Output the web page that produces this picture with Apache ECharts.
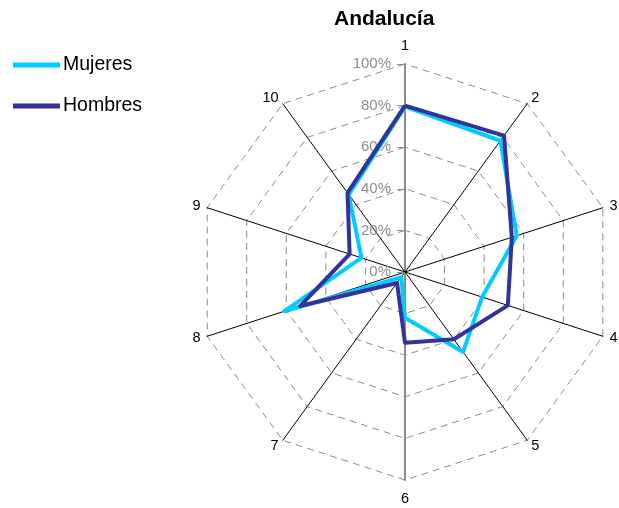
<!DOCTYPE html>
<html>
<head>
<meta charset="utf-8">
<script src="https://cdn.jsdelivr.net/npm/echarts@6/dist/echarts.min.js"></script>
<style>
  html, body { margin: 0; padding: 0; background: #fff; }
  #chart { width: 619px; height: 508px; }
</style>
</head>
<body>
<div id="chart"></div>
<script>
// Radar categories (1..10, running clockwise from the top) and share values per group
const categories = ['1', '2', '3', '4', '5', '6', '7', '8', '9', '10'];
const mujeres = [0.795, 0.78, 0.565, 0.39, 0.475, 0.22, 0.03, 0.61, 0.22, 0.46];
const hombres = [0.80, 0.81, 0.54, 0.52, 0.40, 0.34, 0.065, 0.53, 0.28, 0.47];
const seriesNames = ['Mujeres', 'Hombres'];
const titleText = 'Andalucía';

const FONT = 'Liberation Sans, Arial, sans-serif';

// ECharts lays radar indicators out counter-clockwise; walk the categories
// in reverse (after the first) so they read clockwise.
const order = [0].concat(categories.map(function (_, i) { return i; }).slice(1).reverse());
const pick = function (arr) { return order.map(function (k) { return arr[k]; }); };

const indicator = order.map(function (k) {
  const ind = { name: categories[k], min: 0, max: 1 };
  if (k === 0 || k === 5) {
    // the value axis (top/bottom) is drawn thicker and grey
    ind.axisLine = { lineStyle: { color: '#8c8c8c', width: 2 } };
  }
  if (k === 0) {
    ind.axisTick = { show: true, length: 8, lineStyle: { color: '#8c8c8c', width: 1 } };
    ind.axisLabel = {
      show: true,
      color: '#8c8c8c',
      fontFamily: FONT,
      fontSize: 15,
      margin: 14,
      formatter: function (v) { return Math.round(v * 100) + '%'; }
    };
  }
  return ind;
});

const chart = echarts.init(document.getElementById('chart'), null, { renderer: 'canvas' });

chart.setOption({
  animation: false,
  backgroundColor: '#fff',
  title: {
    text: titleText,
    left: 329,
    top: 4,
    textStyle: { fontFamily: FONT, fontSize: 21, fontWeight: 'bold', color: '#000' }
  },
  legend: {
    data: seriesNames,
    orient: 'vertical',
    left: 8,
    top: 50,
    itemWidth: 47,
    itemHeight: 5,
    itemGap: 21,
    icon: 'rect',
    textStyle: { fontFamily: FONT, fontSize: 19.5, color: '#000', padding: [0, 0, 0, -2] }
  },
  radar: {
    center: [405, 272],
    radius: 208,
    startAngle: 90,
    shape: 'polygon',
    splitNumber: 5,
    indicator: indicator,
    axisName: { color: '#000', fontFamily: FONT, fontSize: 14.5, padding: [4, 0, 4, 0] },
    nameGap: 7,
    axisLine: { lineStyle: { color: '#000', width: 1 } },
    axisTick: { show: false },
    axisLabel: { show: false },
    splitLine: { lineStyle: { color: '#8c8c8c', width: 1, type: [7, 5] } },
    splitArea: { show: false }
  },
  series: [{
    type: 'radar',
    symbol: 'none',
    data: [
      { name: seriesNames[0], value: pick(mujeres), lineStyle: { color: '#00CCFF', width: 4 }, itemStyle: { color: '#00CCFF' } },
      { name: seriesNames[1], value: pick(hombres), lineStyle: { color: '#333399', width: 4 }, itemStyle: { color: '#333399' } }
    ]
  }]
});
</script>
</body>
</html>
